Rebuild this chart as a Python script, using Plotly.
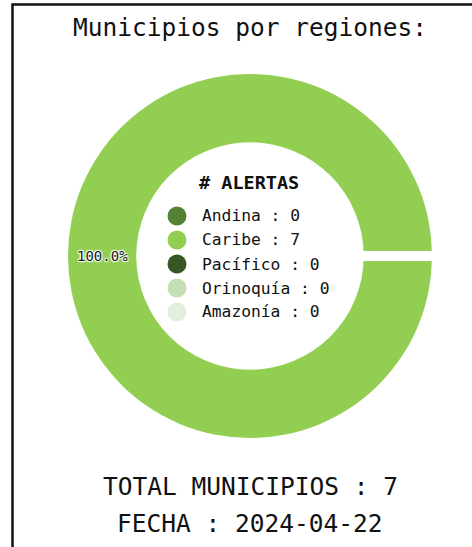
import math
import plotly.graph_objects as go

# ---- data -------------------------------------------------------------
regions = ["Andina", "Caribe", "Pacífico", "Orinoquía", "Amazonía"]
alerts = [0, 7, 0, 0, 0]
colors = ["#548235", "#92CE52", "#375623", "#C5E0B4", "#E2EFDA"]
chart_title = "Municipios por regiones:"
legend_title = "# ALERTAS"
report_date = "2024-04-22"

# ---- geometry (pixels, figure is 472 x 547) ---------------------------
W, H = 472, 547
CX, CY, R = 250, 256, 182
HOLE = 0.625
MONO = "DejaVu Sans Mono"


def px(x):
    return x / W


def py(y):
    return 1 - y / H


total = sum(alerts)

fig = go.Figure()
fig.add_trace(go.Pie(
    labels=regions,
    values=alerts,
    marker=dict(colors=colors, line=dict(width=0)),
    hole=HOLE,
    sort=False,
    direction="counterclockwise",
    rotation=90,
    textinfo="none",
    hoverinfo="label+value+percent",
    showlegend=False,
    domain=dict(x=[px(CX - R), px(CX + R)], y=[py(CY + R), py(CY - R)]),
))

shapes = []
annotations = []

# white separators at the wedge boundaries (start angle 0 = pointing right)
r_in = R * HOLE
angle = 0.0
for v in alerts:
    if v <= 0:
        continue
    a = math.radians(angle)
    shapes.append(dict(
        type="line", xref="paper", yref="paper",
        x0=px(CX + (r_in - 4) * math.cos(a)), y0=py(CY - (r_in - 4) * math.sin(a)),
        x1=px(CX + (R + 4) * math.cos(a)), y1=py(CY - (R + 4) * math.sin(a)),
        line=dict(color="white", width=10),
    ))
    angle += 360 * v / total

# percentage labels placed mid-ring at each wedge's middle angle
angle = 0.0
r_mid = (R + r_in) / 2
for v in alerts:
    if v <= 0:
        continue
    share = v / total
    a = math.radians(angle + 180 * share)
    annotations.append(dict(
        text=f"{share * 100:.1f}%", xref="paper", yref="paper",
        x=px(CX + r_mid * math.cos(a)), y=py(CY - r_mid * math.sin(a)),
        xanchor="center", yanchor="middle", showarrow=False,
        font=dict(family=MONO, size=14, color="#1a1a1a",
                  shadow="white 1px 1px 1px, white -1px -1px 1px, "
                         "white 1px -1px 1px, white -1px 1px 1px"),
    ))
    angle += 360 * share

# legend drawn inside the hole
annotations.append(dict(
    text=f"<b>{legend_title}</b>", xref="paper", yref="paper",
    x=px(249), y=py(182), xanchor="center", yanchor="middle", showarrow=False,
    font=dict(family=MONO, size=18.5, color="#111111"),
))
for i, (name, val, col) in enumerate(zip(regions, alerts, colors)):
    yy = 216 + 24 * i
    shapes.append(dict(
        type="circle", xref="paper", yref="paper",
        x0=px(177 - 9.5), x1=px(177 + 9.5), y0=py(yy + 9.5), y1=py(yy - 9.5),
        fillcolor=col, line=dict(width=0),
    ))
    annotations.append(dict(
        text=f"{name} : {val}", xref="paper", yref="paper",
        x=px(200), y=py(yy), xanchor="left", yanchor="middle", showarrow=False,
        font=dict(family=MONO, size=16.3, color="#111111"),
    ))

# heading and footer
annotations.append(dict(
    text=chart_title, xref="paper", yref="paper",
    x=px(250), y=py(27), xanchor="center", yanchor="middle", showarrow=False,
    font=dict(family=MONO, size=24.5, color="#111111"),
))
annotations.append(dict(
    text=f"TOTAL MUNICIPIOS : {total}", xref="paper", yref="paper",
    x=px(250), y=py(486), xanchor="center", yanchor="middle", showarrow=False,
    font=dict(family=MONO, size=24.5, color="#111111"),
))
annotations.append(dict(
    text=f"FECHA : {report_date}", xref="paper", yref="paper",
    x=px(250), y=py(523), xanchor="center", yanchor="middle", showarrow=False,
    font=dict(family=MONO, size=24.5, color="#111111"),
))

# frame
shapes.append(dict(
    type="rect", xref="paper", yref="paper",
    x0=px(12.5), x1=px(W + 20), y0=py(H + 20), y1=py(4.5),
    line=dict(color="#111111", width=2.5), fillcolor="rgba(0,0,0,0)",
))

fig.update_layout(
    width=W, height=H,
    margin=dict(l=0, r=0, t=0, b=0),
    paper_bgcolor="white", plot_bgcolor="white",
    shapes=shapes, annotations=annotations,
)

fig.write_html("out.html")
